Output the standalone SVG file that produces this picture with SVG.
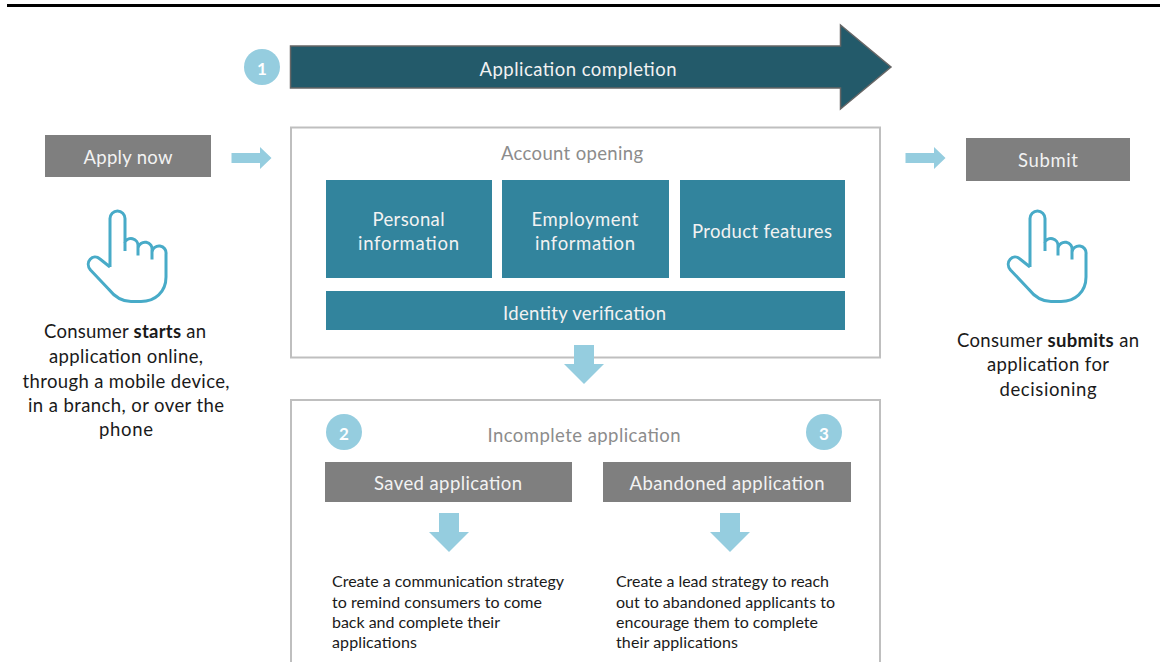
<svg xmlns="http://www.w3.org/2000/svg" width="1160" height="662" viewBox="0 0 1160 662">
<style>
text{font-family:Lato,"Liberation Sans",sans-serif;font-size:18.5px;transform:translateY(.6px)}
.c{text-anchor:middle}
.w{fill:#f2f2f2}
.g{fill:#8c8c8c}
.k{fill:#1a1a1a}
text.s{font-size:16px;transform:none}
.n{fill:#fff;font-weight:700;font-size:17px;text-anchor:middle}
.gb{fill:#7f7f7f}
.tl{fill:#32849d}
.la{fill:#95cddf}
.box{fill:#fff;stroke:#bfbfbf;stroke-width:2}
.hand{fill:#fff;stroke:#48abc8;stroke-width:3;stroke-linecap:butt;stroke-linejoin:round}
</style>
<defs>
<path id="hand" class="hand" d="M110 267V218.500a7.500 7.500 0 0 1 15 0V251M124.500 243A7 7 0 0 1 138 246V255.500M138 248A7 7 0 0 1 152 250.500V259.500M152 252A7 7 0 0 1 166 254V277c0 15-11 24.500-25 24.500H131C122 301.500 114 296 108.500 289L90.500 270C84 262 93 253 100 259L110 267"/>
<path id="ar" class="la" d="M0 6H28.500V0L40 11 28.500 22V16H0Z"/>
<path id="ad" class="la" d="M9.500 0H29.500V19H39.500L19.500 39-.5 19H9.500Z"/>
</defs>
<rect x="7" y="4" width="1153" height="3" fill="#000"/>
<g id="completion">
<path d="M290.500 46H840.500V25L891 67 840.500 109V88H290.500Z" fill="#235a6a" stroke="#666" stroke-width="1.500"/>
<text class="c w" x="578" y="75" textLength="197">Application completion</text>
</g>
<g id="step1"><circle cx="262" cy="67" r="18" class="la"/><text class="n" x="262" y="74">1</text></g>
<g id="apply"><rect x="45" y="135" width="166" height="42" class="gb"/><text class="c w" x="128" y="163" textLength="89">Apply now</text></g>
<g id="submit"><rect x="966" y="138" width="164" height="43" class="gb"/><text class="c w" x="1048" y="166" textLength="60">Submit</text></g>
<g id="hand-start"><use href="#hand"/></g>
<g id="hand-submit"><use href="#hand" x="920"/></g>
<g id="start-text">
<text class="c k" x="125" y="337" textLength="162">Consumer <tspan font-weight="700">starts</tspan> an</text>
<text class="c k" x="126" y="362" textLength="154">application online,</text>
<text class="c k" x="126" y="387" textLength="207">through a mobile device,</text>
<text class="c k" x="126" y="411" textLength="196">in a branch, or over the</text>
<text class="c k" x="126" y="435" textLength="54">phone</text>
</g>
<g id="submit-text">
<text class="c k" x="1048" y="346" textLength="182">Consumer <tspan font-weight="700">submits</tspan> an</text>
<text class="c k" x="1048" y="370" textLength="122">application for</text>
<text class="c k" x="1048" y="395" textLength="97">decisioning</text>
</g>
<g id="account">
<rect x="291" y="127.500" width="589" height="230" class="box"/>
<text class="c g" x="572" y="159" textLength="142">Account opening</text>
</g>
<g id="personal"><rect x="326" y="180" width="166" height="98" class="tl"/><text class="c w" x="408.500" y="225" textLength="72">Personal</text><text class="c w" x="408.500" y="249" textLength="101">information</text></g>
<g id="employment"><rect x="502" y="180" width="167" height="98" class="tl"/><text class="c w" x="585" y="225" textLength="107">Employment</text><text class="c w" x="585" y="249" textLength="100">information</text></g>
<g id="product"><rect x="680" y="180" width="165" height="98" class="tl"/><text class="c w" x="762" y="237" textLength="140">Product features</text></g>
<g id="identity"><rect x="326" y="291" width="519" height="39" class="tl"/><text class="c w" x="584.500" y="319" textLength="163">Identity verification</text></g>
<g id="incomplete">
<rect x="291" y="400" width="589" height="280" class="box"/>
<text class="c g" x="584" y="441" textLength="193">Incomplete application</text>
</g>
<g id="step2"><circle cx="344" cy="432" r="18" class="la"/><text class="n" x="344" y="439">2</text></g>
<g id="step3"><circle cx="824" cy="432" r="18" class="la"/><text class="n" x="824" y="439">3</text></g>
<g id="saved"><rect x="325" y="462" width="247" height="40" class="gb"/><text class="c w" x="448" y="489" textLength="148">Saved application</text></g>
<g id="abandoned"><rect x="603" y="462" width="248" height="40" class="gb"/><text class="c w" x="727" y="489" textLength="195">Abandoned application</text></g>
<g id="saved-text">
<text class="k s" x="332" y="587" textLength="232">Create a communication strategy</text>
<text class="k s" x="332" y="608" textLength="210">to remind consumers to come</text>
<text class="k s" x="332" y="628" textLength="168">back and complete their</text>
<text class="k s" x="332" y="648" textLength="85">applications</text>
</g>
<g id="abandoned-text">
<text class="k s" x="616" y="587" textLength="213">Create a lead strategy to reach</text>
<text class="k s" x="616" y="608" textLength="219">out to abandoned applicants to</text>
<text class="k s" x="616" y="628" textLength="202">encourage them to complete</text>
<text class="k s" x="616" y="648" textLength="122">their applications</text>
</g>
<g id="connectors">
<use href="#ar" x="231.500" y="147"/>
<use href="#ar" x="905.500" y="147"/>
<use href="#ad" x="564.500" y="345"/>
<use href="#ad" x="429.500" y="513"/>
<use href="#ad" x="710.500" y="513"/>
</g>
</svg>
